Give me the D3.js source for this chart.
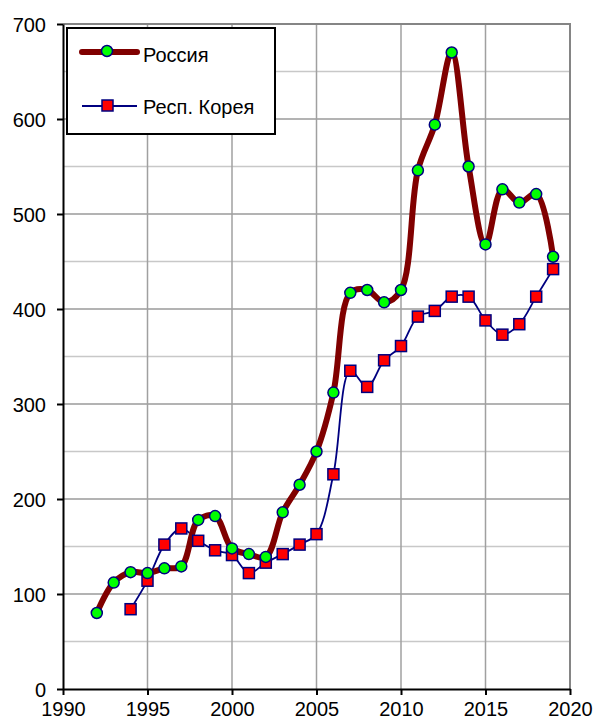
<!DOCTYPE html>
<html>
<head>
<meta charset="utf-8">
<script src="https://cdn.jsdelivr.net/npm/d3@7"></script>
<style>
  body { margin: 0; background: #fff; }
  svg { display: block; font-family: "Liberation Sans", Arial, sans-serif; }
</style>
</head>
<body>
<div id="chart"></div>
<script>
// Data
const russiaYears = d3.range(1992, 2020);
const russiaValues = [80, 112, 123, 122, 127, 129, 178, 182, 148, 142, 139, 186, 215, 250,
    312, 417, 420, 407, 420, 546, 594, 670, 550, 468, 526, 512, 521, 455];
const koreaYears = d3.range(1994, 2020);
const koreaValues = [84, 114, 152, 169, 156, 146, 141, 122, 133, 142, 152, 163,
    226, 335, 318, 346, 361, 392, 398, 413, 413, 388, 373, 384, 413, 442];
const xTicks = [1990, 1995, 2000, 2005, 2010, 2015, 2020];
const yTicks = [0, 100, 200, 300, 400, 500, 600, 700];
const seriesNames = ["Россия", "Респ. Корея"];

const width = 595, height = 725;
const plotLeft = 63, plotRight = 570, plotTop = 24, plotBottom = 689;

const x = d3.scaleLinear().domain([1990, 2020]).range([plotLeft, plotRight]);
const y = d3.scaleLinear().domain([0, 700]).range([plotBottom, plotTop]);

const svg = d3.select("#chart").append("svg")
    .attr("width", width)
    .attr("height", height);

// minor horizontal grid (every 50)
svg.append("g").selectAll("line")
    .data(d3.range(50, 700, 100))
    .enter().append("line")
    .attr("x1", plotLeft).attr("x2", plotRight)
    .attr("y1", d => y(d)).attr("y2", d => y(d))
    .attr("stroke", "#c8c8c8").attr("stroke-width", 1.5);

// major horizontal grid
svg.append("g").selectAll("line")
    .data(yTicks.filter(d => d > 0 && d < 700))
    .enter().append("line")
    .attr("x1", plotLeft).attr("x2", plotRight)
    .attr("y1", d => y(d)).attr("y2", d => y(d))
    .attr("stroke", "#9a9a9a").attr("stroke-width", 1.5);

// vertical grid
svg.append("g").selectAll("line")
    .data(xTicks.filter(d => d > 1990 && d < 2020))
    .enter().append("line")
    .attr("x1", d => x(d)).attr("x2", d => x(d))
    .attr("y1", plotTop).attr("y2", plotBottom)
    .attr("stroke", "#a0a0a0").attr("stroke-width", 1.5);

// top and right border
svg.append("path")
    .attr("d", `M${plotLeft},${y(700)}H${x(2020)}V${plotBottom}`)
    .attr("fill", "none")
    .attr("stroke", "#858585")
    .attr("stroke-width", 2);

// axes
const xAxis = svg.append("g")
    .attr("transform", `translate(0,${plotBottom})`)
    .call(d3.axisBottom(x).tickValues(xTicks).tickFormat(d3.format("d")).tickSize(6).tickSizeOuter(0));
const yAxis = svg.append("g")
    .attr("transform", `translate(${plotLeft},0)`)
    .call(d3.axisLeft(y).tickValues(yTicks).tickSize(6).tickSizeOuter(0));

[xAxis, yAxis].forEach(ax => {
    ax.select(".domain").attr("stroke", "#000").attr("stroke-width", 2);
    ax.selectAll(".tick line").attr("stroke", "#000").attr("stroke-width", 2);
    ax.selectAll(".tick text")
        .attr("fill", "#000")
        .style("font-size", "20px")
        .style("font-family", "'Liberation Sans', Arial, sans-serif");
});
xAxis.selectAll(".tick text").attr("dy", "0.95em").attr("y", 8);
yAxis.selectAll(".tick text").attr("x", -17).attr("dy", "0.36em");

const curve = d3.curveCatmullRom.alpha(0.5);

// Korea series
const koreaData = koreaYears.map((yr, i) => ({ year: yr, value: koreaValues[i] }));
svg.append("path")
    .datum(koreaData)
    .attr("fill", "none")
    .attr("stroke", "#000080")
    .attr("stroke-width", 1.8)
    .attr("d", d3.line().x(d => x(d.year)).y(d => y(d.value)).curve(curve));

// Russia series
const russiaData = russiaYears.map((yr, i) => ({ year: yr, value: russiaValues[i] }));
svg.append("path")
    .datum(russiaData)
    .attr("fill", "none")
    .attr("stroke", "#800000")
    .attr("stroke-width", 6)
    .attr("stroke-linejoin", "round")
    .attr("d", d3.line().x(d => x(d.year)).y(d => y(d.value)).curve(curve));

// Korea markers
svg.append("g").selectAll("rect")
    .data(koreaData)
    .enter().append("rect")
    .attr("x", d => x(d.year) - 5.5)
    .attr("y", d => y(d.value) - 5.5)
    .attr("width", 11).attr("height", 11)
    .attr("fill", "#ff0000")
    .attr("stroke", "#000080")
    .attr("stroke-width", 1.5);

// Russia markers
svg.append("g").selectAll("circle")
    .data(russiaData)
    .enter().append("circle")
    .attr("cx", d => x(d.year))
    .attr("cy", d => y(d.value))
    .attr("r", 5.5)
    .attr("fill", "#00ff00")
    .attr("stroke", "#000080")
    .attr("stroke-width", 1.5);

// Legend
const legend = svg.append("g");
legend.append("rect")
    .attr("x", 67).attr("y", 28)
    .attr("width", 208).attr("height", 106)
    .attr("fill", "#fff")
    .attr("stroke", "#000")
    .attr("stroke-width", 2);

legend.append("line")
    .attr("x1", 82).attr("x2", 137).attr("y1", 52).attr("y2", 52)
    .attr("stroke", "#800000").attr("stroke-width", 6).attr("stroke-linecap", "round");
legend.append("circle")
    .attr("cx", 107).attr("cy", 51).attr("r", 5.5)
    .attr("fill", "#00ff00").attr("stroke", "#000080").attr("stroke-width", 1.5);

legend.append("line")
    .attr("x1", 82).attr("x2", 137).attr("y1", 106).attr("y2", 106)
    .attr("stroke", "#000080").attr("stroke-width", 1.8);
legend.append("rect")
    .attr("x", 102).attr("y", 100).attr("width", 11).attr("height", 11)
    .attr("fill", "#ff0000").attr("stroke", "#000080").attr("stroke-width", 1.5);

legend.selectAll("text")
    .data(seriesNames)
    .enter().append("text")
    .attr("x", 143)
    .attr("y", (d, i) => i === 0 ? 62 : 114)
    .attr("font-size", 20)
    .attr("fill", "#000")
    .text(d => d);
</script>
</body>
</html>
